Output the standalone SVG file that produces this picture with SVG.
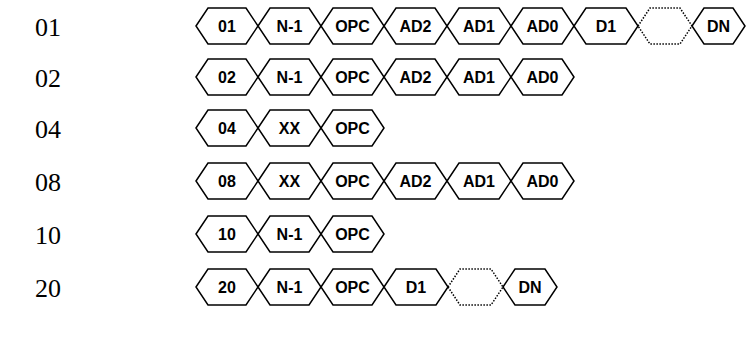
<svg xmlns="http://www.w3.org/2000/svg" width="746" height="345" viewBox="0 0 746 345">
<style>
.bg{fill:#fff}
.hx{fill:#fff;stroke:#000;stroke-width:1.5;stroke-linejoin:miter}
.dot{fill:none;stroke:#000;stroke-width:1.5;stroke-dasharray:1.5 1.5}
.t{font-family:"Liberation Sans",Arial,sans-serif;font-weight:bold;font-size:16px;text-anchor:middle;dominant-baseline:central;fill:#000}
.lbl{font-family:"Liberation Serif","Times New Roman",serif;font-size:26px;dominant-baseline:central;fill:#000}
</style>
<rect class="bg" x="0" y="0" width="746" height="345"/>
<g id="labels">
<text class="lbl" x="35" y="27">01</text>
<text class="lbl" x="35" y="78">02</text>
<text class="lbl" x="35" y="129">04</text>
<text class="lbl" x="35" y="182">08</text>
<text class="lbl" x="35" y="235">10</text>
<text class="lbl" x="35" y="288">20</text>
</g>
<g id="connectors"></g>
<!-- Row 01 -->
<g id="r1n1"><path class="hx" d="M196,26 L208,8 L246,8 L258,26 L246,44 L208,44 Z"/><text class="t" x="227" y="26">01</text></g>
<g id="r1n2"><path class="hx" d="M258,26 L270,8 L309,8 L321,26 L309,44 L270,44 Z"/><text class="t" x="289.5" y="26">N-1</text></g>
<g id="r1n3"><path class="hx" d="M321,26 L333,8 L372,8 L384,26 L372,44 L333,44 Z"/><text class="t" x="352.5" y="26">OPC</text></g>
<g id="r1n4"><path class="hx" d="M384,26 L396,8 L435,8 L447,26 L435,44 L396,44 Z"/><text class="t" x="415.5" y="26">AD2</text></g>
<g id="r1n5"><path class="hx" d="M447,26 L459,8 L499,8 L511,26 L499,44 L459,44 Z"/><text class="t" x="479" y="26">AD1</text></g>
<g id="r1n6"><path class="hx" d="M511,26 L523,8 L562,8 L574,26 L562,44 L523,44 Z"/><text class="t" x="542.5" y="26">AD0</text></g>
<g id="r1n7"><path class="hx" d="M574,26 L586,8 L626,8 L638,26 L626,44 L586,44 Z"/><text class="t" x="606" y="26">D1</text></g>
<g id="r1n8"><path class="dot" d="M638,26 L650,8 L680,8 L692,26 L680,44 L650,44 Z"/></g>
<g id="r1n9"><path class="hx" d="M692,26 L704,8 L733,8 L745,26 L733,44 L704,44 Z"/><text class="t" x="718.5" y="26">DN</text></g>
<!-- Row 02 -->
<g id="r2n1"><path class="hx" d="M196,77 L208,59 L246,59 L258,77 L246,95 L208,95 Z"/><text class="t" x="227" y="77">02</text></g>
<g id="r2n2"><path class="hx" d="M258,77 L270,59 L309,59 L321,77 L309,95 L270,95 Z"/><text class="t" x="289.5" y="77">N-1</text></g>
<g id="r2n3"><path class="hx" d="M321,77 L333,59 L372,59 L384,77 L372,95 L333,95 Z"/><text class="t" x="352.5" y="77">OPC</text></g>
<g id="r2n4"><path class="hx" d="M384,77 L396,59 L435,59 L447,77 L435,95 L396,95 Z"/><text class="t" x="415.5" y="77">AD2</text></g>
<g id="r2n5"><path class="hx" d="M447,77 L459,59 L499,59 L511,77 L499,95 L459,95 Z"/><text class="t" x="479" y="77">AD1</text></g>
<g id="r2n6"><path class="hx" d="M511,77 L523,59 L562,59 L574,77 L562,95 L523,95 Z"/><text class="t" x="542.5" y="77">AD0</text></g>
<!-- Row 04 -->
<g id="r3n1"><path class="hx" d="M196,128 L208,110 L246,110 L258,128 L246,146 L208,146 Z"/><text class="t" x="227" y="128">04</text></g>
<g id="r3n2"><path class="hx" d="M258,128 L270,110 L309,110 L321,128 L309,146 L270,146 Z"/><text class="t" x="289.5" y="128">XX</text></g>
<g id="r3n3"><path class="hx" d="M321,128 L333,110 L372,110 L384,128 L372,146 L333,146 Z"/><text class="t" x="352.5" y="128">OPC</text></g>
<!-- Row 08 -->
<g id="r4n1"><path class="hx" d="M196,181 L208,163 L246,163 L258,181 L246,199 L208,199 Z"/><text class="t" x="227" y="181">08</text></g>
<g id="r4n2"><path class="hx" d="M258,181 L270,163 L309,163 L321,181 L309,199 L270,199 Z"/><text class="t" x="289.5" y="181">XX</text></g>
<g id="r4n3"><path class="hx" d="M321,181 L333,163 L372,163 L384,181 L372,199 L333,199 Z"/><text class="t" x="352.5" y="181">OPC</text></g>
<g id="r4n4"><path class="hx" d="M384,181 L396,163 L435,163 L447,181 L435,199 L396,199 Z"/><text class="t" x="415.5" y="181">AD2</text></g>
<g id="r4n5"><path class="hx" d="M447,181 L459,163 L499,163 L511,181 L499,199 L459,199 Z"/><text class="t" x="479" y="181">AD1</text></g>
<g id="r4n6"><path class="hx" d="M511,181 L523,163 L562,163 L574,181 L562,199 L523,199 Z"/><text class="t" x="542.5" y="181">AD0</text></g>
<!-- Row 10 -->
<g id="r5n1"><path class="hx" d="M196,234 L208,216 L246,216 L258,234 L246,252 L208,252 Z"/><text class="t" x="227" y="234">10</text></g>
<g id="r5n2"><path class="hx" d="M258,234 L270,216 L309,216 L321,234 L309,252 L270,252 Z"/><text class="t" x="289.5" y="234">N-1</text></g>
<g id="r5n3"><path class="hx" d="M321,234 L333,216 L372,216 L384,234 L372,252 L333,252 Z"/><text class="t" x="352.5" y="234">OPC</text></g>
<!-- Row 20 -->
<g id="r6n1"><path class="hx" d="M196,287 L208,269 L246,269 L258,287 L246,305 L208,305 Z"/><text class="t" x="227" y="287">20</text></g>
<g id="r6n2"><path class="hx" d="M258,287 L270,269 L309,269 L321,287 L309,305 L270,305 Z"/><text class="t" x="289.5" y="287">N-1</text></g>
<g id="r6n3"><path class="hx" d="M321,287 L333,269 L372,269 L384,287 L372,305 L333,305 Z"/><text class="t" x="352.5" y="287">OPC</text></g>
<g id="r6n4"><path class="hx" d="M384,287 L396,269 L436,269 L448,287 L436,305 L396,305 Z"/><text class="t" x="416" y="287">D1</text></g>
<g id="r6n5"><path class="dot" d="M448,287 L460,269 L491,269 L503,287 L491,305 L460,305 Z"/></g>
<g id="r6n6"><path class="hx" d="M503,287 L515,269 L545,269 L557,287 L545,305 L515,305 Z"/><text class="t" x="530" y="287">DN</text></g>
</svg>
